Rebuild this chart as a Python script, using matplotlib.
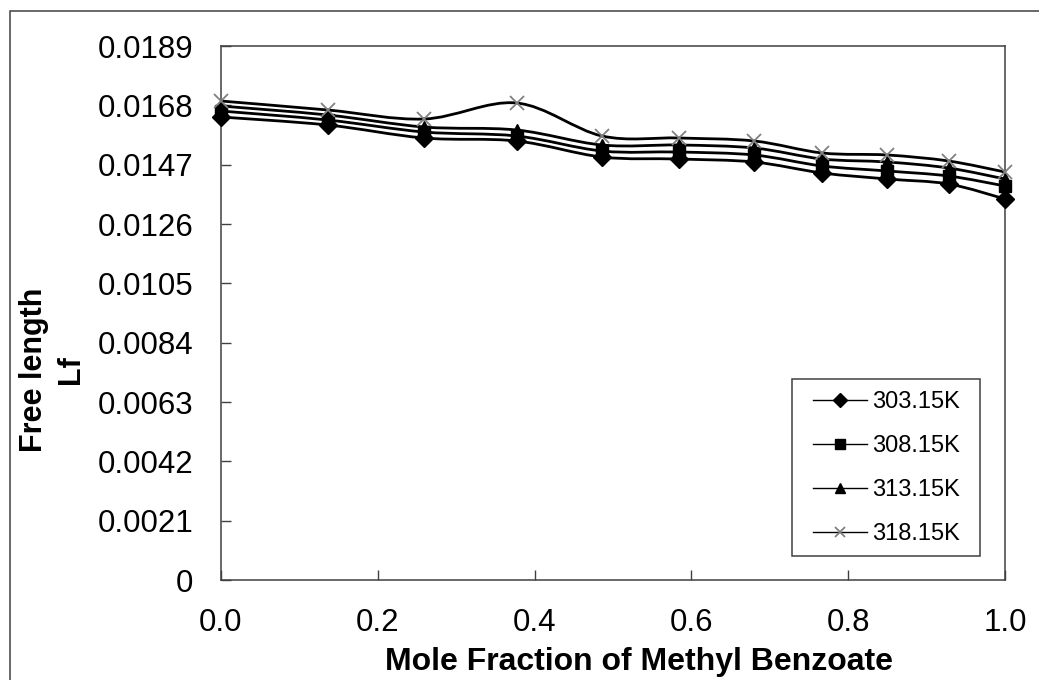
import matplotlib
matplotlib.use('Agg')
import matplotlib.pyplot as plt
from matplotlib.path import Path
from matplotlib.patches import PathPatch, Rectangle
from matplotlib.lines import Line2D

plt.rcParams['font.family'] = ['Liberation Sans', 'DejaVu Sans']

mole_fraction = [0.0, 0.136, 0.259, 0.377, 0.486, 0.584, 0.680, 0.767, 0.850, 0.928, 1.0]
lf_303 = [0.016387, 0.016104, 0.015644, 0.015538, 0.014971, 0.014900, 0.014794, 0.014405, 0.014193, 0.014016, 0.013485]
lf_308 = [0.016599, 0.016281, 0.015856, 0.015715, 0.015184, 0.015148, 0.015042, 0.014653, 0.014476, 0.014299, 0.013945]
lf_313 = [0.016776, 0.016458, 0.016033, 0.015927, 0.015396, 0.015396, 0.015290, 0.014900, 0.014794, 0.014582, 0.014193]
lf_318 = [0.016953, 0.016635, 0.016316, 0.016883, 0.015715, 0.015644, 0.015538, 0.015113, 0.015042, 0.014830, 0.014440]
series_labels = ['303.15K', '308.15K', '313.15K', '318.15K']

y_ticks = [0, 0.0021, 0.0042, 0.0063, 0.0084, 0.0105, 0.0126, 0.0147, 0.0168, 0.0189]
y_tick_labels = ['0', '0.0021', '0.0042', '0.0063', '0.0084', '0.0105', '0.0126', '0.0147', '0.0168', '0.0189']
x_ticks = [0.0, 0.2, 0.4, 0.6, 0.8, 1.0]
x_tick_labels = ['0.0', '0.2', '0.4', '0.6', '0.8', '1.0']


def smooth_path(xs, ys):
    # excel-like smoothed line: cubic bezier through the points
    n = len(xs)
    verts = [(xs[0], ys[0])]
    codes = [Path.MOVETO]
    for i in range(n - 1):
        x0, y0 = xs[max(i - 1, 0)], ys[max(i - 1, 0)]
        x1, y1 = xs[i], ys[i]
        x2, y2 = xs[i + 1], ys[i + 1]
        x3, y3 = xs[min(i + 2, n - 1)], ys[min(i + 2, n - 1)]
        verts += [(x1 + (x2 - x0) / 6, y1 + (y2 - y0) / 6),
                  (x2 - (x3 - x1) / 6, y2 - (y3 - y1) / 6),
                  (x2, y2)]
        codes += [Path.CURVE4] * 3
    return Path(verts, codes)


W, H = 1039, 680
fig = plt.figure(figsize=(W / 100, H / 100), dpi=100)
ax = fig.add_axes([221 / W, 1 - 580 / H, (1005 - 221) / W, (580 - 46) / H])

markers = [
    dict(marker='D', mec='black', mfc='black'),
    dict(marker='s', mec='black', mfc='black'),
    dict(marker='^', mec='black', mfc='black'),
    dict(marker='x', mec='#808080', mew=1.3),
]
plot_sizes = [9, 9, 9, 10]

handles = []
for ys, lab, mk, ms in zip([lf_303, lf_308, lf_313, lf_318], series_labels, markers, plot_sizes):
    ax.add_patch(PathPatch(smooth_path(mole_fraction, ys), fill=False, lw=2, edgecolor='black', zorder=2))
    ax.plot(mole_fraction, ys, linestyle='none', markersize=ms, clip_on=False, zorder=3, **mk)
    handles.append(Line2D([], [], color='black', lw=1.0, markersize=7, label=lab, **mk))

ax.set_xlim(0, 1)
ax.set_ylim(0, 0.0189)
ax.set_xticks(x_ticks)
ax.set_xticklabels(x_tick_labels)
ax.set_yticks(y_ticks)
ax.set_yticklabels(y_tick_labels)
ax.tick_params(direction='in', length=7, width=1, color='#404040', labelsize=22.5, pad=20)
for s in ax.spines.values():
    s.set_color('#404040')
    s.set_linewidth(1.1)

# legend box drawn separately to get excel padding
ax.add_patch(Rectangle(((792 - 221) / 784, (580 - 556) / 534), (980 - 792) / 784, (556 - 379) / 534,
                       transform=ax.transAxes, fill=False, edgecolor='#404040', lw=1.1, zorder=4))
ax.legend(handles=handles, loc='upper left', bbox_to_anchor=((813 - 221) / 784, (580 - 391) / 534),
          frameon=False, fontsize=17, handlelength=2.29, handletextpad=0.2, labelspacing=0.93,
          borderpad=0, borderaxespad=0, numpoints=1)

fig.text(639 / W, 1 - 670 / H, 'Mole Fraction of Methyl Benzoate', fontsize=23, fontweight='bold',
         ha='center', va='baseline')
fig.text(42 / W, 1 - 370 / H, 'Free length', fontsize=22, fontweight='bold', rotation=90,
         rotation_mode='anchor', ha='center', va='baseline')
fig.text(79 / W, 1 - 370 / H, 'Lf', fontsize=22, fontweight='bold', rotation=90,
         rotation_mode='anchor', ha='center', va='baseline')

# outer chart frame (cut off at right and bottom)
fig.patches.append(Rectangle((10 / W, -0.1), 1.2, 1.1 - 11 / H, transform=fig.transFigure,
                             fill=False, edgecolor='#404040', lw=1.1))

fig.savefig('out.png', dpi=100)
